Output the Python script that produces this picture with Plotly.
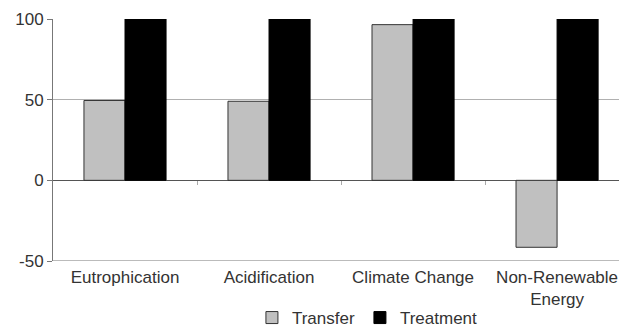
import plotly.graph_objects as go

categories = ["Eutrophication", "Acidification", "Climate Change", "Non-Renewable<br>Energy"]
transfer = [49.5, 49, 96.5, -41.5]
treatment = [100, 100, 100, 100]
y_ticks = [-50, 0, 50, 100]
y_tick_text = ["-50", "0", "50", "100"]
boundary_ticks = [0.5, 1.5, 2.5]

FS = 17
fig = go.Figure()
fig.add_trace(go.Bar(name="Transfer", x=categories, y=transfer,
                     marker=dict(color="#c0c0c0", line=dict(color="#333333", width=1))))
fig.add_trace(go.Bar(name="Treatment", x=categories, y=treatment,
                     marker=dict(color="#000000", line=dict(color="#000000", width=1))))
fig.add_trace(go.Scatter(x=boundary_ticks, y=[0] * len(boundary_ticks), xaxis="x2", mode="markers",
                         marker=dict(opacity=0), showlegend=False, hoverinfo="skip"))

fig.update_layout(
    width=619, height=327,
    margin=dict(l=53, r=0, t=19, b=66),
    paper_bgcolor="white", plot_bgcolor="white",
    barmode="group", bargap=0.43, bargroupgap=0,
    font=dict(family="Liberation Sans, Arial", size=FS, color="#333333"),
    showlegend=True,
    legend=dict(orientation="h", xref="container", yref="container",
                x=0.407, xanchor="left", y=1 - 318 / 327, yanchor="middle",
                font=dict(size=FS, color="#333333"), traceorder="normal",
                bgcolor="rgba(0,0,0,0)", tracegroupgap=0),
    xaxis2=dict(overlaying="x", anchor="free", position=1 / 3, range=[-0.5, 3.43],
                tickvals=boundary_ticks, showticklabels=False, ticks="outside", ticklen=4,
                tickcolor="#aaaaaa", showgrid=False, zeroline=False, showline=False, automargin=False),
)
fig.layout.xaxis.update(range=[-0.5, 3.43], showline=False, ticks="", automargin=False,
                        ticklabelstandoff=4,
                        tickfont=dict(size=FS, color="#333333"), showgrid=False)
fig.update_yaxes(range=[-50, 100], tickvals=y_ticks, ticktext=y_tick_text,
                 showgrid=True, gridcolor="#b0b0b0", gridwidth=1,
                 zeroline=True, zerolinecolor="#555555", zerolinewidth=1, automargin=False,
                 showline=True, linecolor="#777777", linewidth=1, ticks="outside", ticklen=5,
                 tickcolor="#777777", tickfont=dict(size=FS, color="#333333"))
fig.add_shape(type="line", xref="paper", yref="y", x0=0, x1=1, y0=-50, y1=-50,
              line=dict(color="#777777", width=1))
fig.write_html("out.html", config={"displayModeBar": False},
               post_script="document.body.style.margin='0';document.body.style.overflow='hidden';")
